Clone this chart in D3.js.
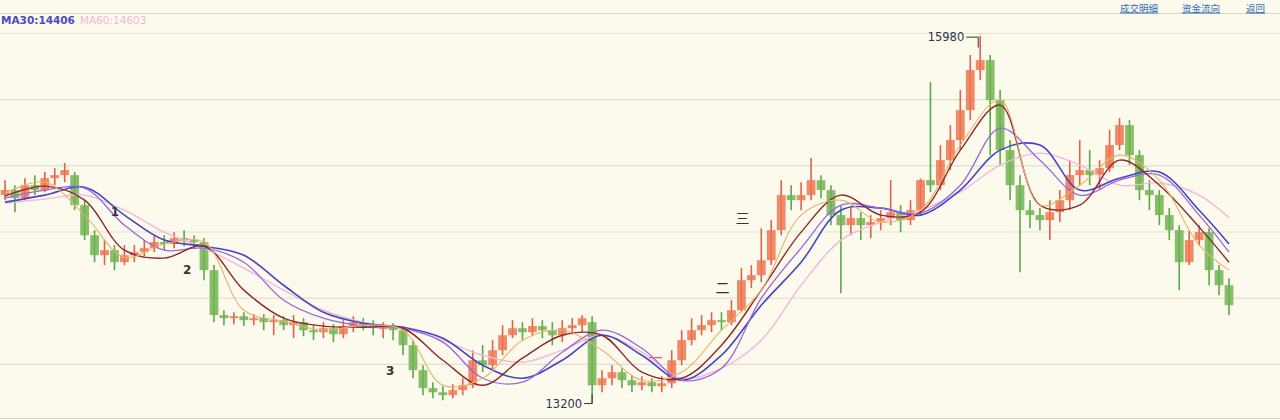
<!DOCTYPE html>
<html><head><meta charset="utf-8">
<script src="https://cdn.jsdelivr.net/npm/d3@7"></script>
<style>html,body{margin:0;padding:0;background:#fcfaec;overflow:hidden}svg{display:block}</style>
</head><body>
<svg id="c" width="1280" height="420"></svg>
<script>
// ---------- data ----------
const opens  = [14775,14813,14752,14850,14813,14903,14926,14926,14699,14472,14321,14359,14268,14321,14344,14374,14420,14405,14450,14435,
  14420,14208,13868,13845,13860,13830,13845,13815,13830,13792,13815,13754,13739,13769,13724,13785,13815,13792,13769,13777,
  13754,13641,13452,13316,13285,13263,13301,13338,13527,13490,13603,13716,13769,13739,13785,13754,13716,13769,13792,13815,
  13338,13391,13437,13376,13338,13361,13331,13353,13527,13679,13754,13792,13830,13815,13905,14132,14170,14283,14510,14775,
  14737,14775,14888,14813,14624,14548,14601,14548,14571,14601,14646,14586,14661,14888,14850,15039,15191,15417,15720,15795,
  15493,15115,14850,14661,14624,14586,14646,14737,14926,14964,14926,14979,15153,15304,15077,14813,14775,14624,14510,14268,
  14435,14495,14208,14094];
const highs  = [14888,14850,14903,14926,14949,14979,15017,14949,14737,14510,14435,14397,14397,14397,14435,14465,14472,14495,14510,14472,
  14450,14246,13905,13890,13890,13875,13875,13868,13860,13868,13845,13792,13815,13800,13830,13860,13845,13830,13815,13807,
  13785,13679,13490,13361,13331,13346,13391,13603,13641,13679,13792,13830,13815,13845,13830,13815,13830,13845,13868,13860,
  13452,13490,13467,13414,13406,13391,13406,13603,13754,13845,13868,13890,13890,13981,14223,14246,14525,14586,14888,14850,
  14873,15055,14926,14850,14699,14677,14646,14624,14661,14888,14699,14737,14900,15629,15153,15304,15569,15833,15980,15833,
  15569,15191,14926,14737,14677,14737,14813,15039,15191,15115,15039,15266,15357,15342,15115,14888,14813,14677,14548,14510,
  14548,14525,14246,14147];
const lows   = [14737,14646,14737,14775,14797,14850,14873,14661,14435,14268,14246,14208,14246,14268,14314,14344,14359,14374,14389,14374,
  14132,13815,13792,13800,13785,13792,13754,13716,13754,13694,13709,13679,13694,13664,13694,13739,13754,13716,13694,13679,
  13565,13391,13263,13240,13225,13240,13263,13316,13437,13452,13565,13694,13679,13709,13694,13641,13664,13724,13739,13200,
  13285,13338,13316,13285,13301,13285,13285,13316,13490,13641,13716,13739,13754,13792,13890,14072,14117,14246,14472,14661,
  14661,14737,14752,14548,14034,14472,14435,14450,14510,14548,14495,14548,14624,14797,14813,14964,15115,15342,15644,15077,
  15002,14737,14193,14525,14510,14435,14571,14661,14850,14850,14813,14949,15115,15002,14737,14661,14548,14435,14057,14246,
  14397,14094,14019,13868];
const closes = [14813,14752,14850,14813,14903,14926,14964,14699,14472,14321,14359,14268,14321,14344,14374,14420,14405,14450,14435,14420,
  14208,13868,13845,13860,13830,13845,13815,13830,13792,13815,13754,13739,13769,13724,13785,13815,13792,13769,13777,13754,
  13641,13452,13316,13285,13263,13301,13338,13527,13490,13603,13716,13769,13739,13785,13754,13716,13769,13792,13845,13338,
  13391,13437,13376,13338,13361,13331,13353,13527,13679,13754,13792,13830,13815,13905,14132,14170,14283,14510,14775,14737,
  14775,14888,14813,14624,14548,14601,14548,14571,14601,14646,14586,14661,14888,14850,15039,15191,15417,15720,15795,15493,
  15115,14850,14661,14624,14586,14646,14737,14926,14964,14926,14979,15153,15304,15077,14813,14775,14624,14510,14268,14435,
  14495,14208,14094,13943];

// moving-average lines, sampled every 4th bar (bar index in maIndex)
const maIndex = [0,4,8,12,16,20,24,28,32,36,40,44,48,52,56,60,64,68,72,76,80,84,88,92,96,100,104,108,112,116,120,123];
const ma5  = [14790,14873,14624,14306,14405,14420,13905,13822,13754,13792,13754,13338,13391,13679,13754,13603,13376,13437,13754,14057,14624,14737,14571,14661,15153,15493,14699,14850,15077,14888,14397,14208];
const ma10 = [14767,14843,14737,14359,14299,14389,14057,13845,13785,13777,13769,13527,13338,13543,13716,13716,13437,13391,13641,14057,14495,14775,14624,14646,15115,15455,14699,14699,15039,14850,14533,14268];
const ma20 = [14752,14813,14828,14548,14359,14374,14268,13981,13845,13785,13769,13664,13391,13361,13588,13754,13618,13376,13467,13996,14374,14699,14677,14639,14850,15281,15039,14775,14888,14926,14624,14344];
const ma30 = [14722,14775,14835,14624,14435,14389,14321,14094,13890,13807,13777,13694,13490,13391,13527,13716,13565,13376,13565,13943,14268,14661,14677,14624,14813,15115,15153,14813,14903,14949,14661,14406];
const ma60 = [14714,14745,14775,14661,14495,14374,14223,14057,13905,13815,13769,13679,13565,13512,13603,13716,13588,13391,13467,13679,14094,14435,14571,14661,14797,15002,15092,15002,14850,14866,14775,14603];

const gridPrices = [13500,14000,14500,15000,15500,16000];
const legendItems = [{name:"MA30", value:14406}, {name:"MA60", value:14603}];
const topLinks = ["成交明细","资金流向","返回"];
const notes = [{t:"1",i:11.05,p:14646},{t:"2",i:18.3,p:14208},{t:"3",i:38.7,p:13445},
               {t:"一",i:65.4,p:13543},{t:"二",i:72.1,p:14072},{t:"三",i:74.1,p:14601}];

// ---------- drawing ----------
const W = 1280, H = 420;
const svg = d3.select("#c");
svg.append("rect").attr("width",W).attr("height",H).attr("fill","#fcfaec");

const n = closes.length;
const x = d3.scaleLinear().domain([0, n-1]).range([5, 1229]);
const y = d3.scaleLinear().domain([13000, 16000]).range([430, 33]);

// frame lines
svg.append("line").attr("x1",0).attr("x2",W).attr("y1",13.5).attr("y2",13.5).attr("stroke","#d9d5c6");
svg.append("line").attr("x1",0).attr("x2",W).attr("y1",418.5).attr("y2",418.5).attr("stroke","#d9d5c6");
// grid
const yAxis = d3.axisLeft(y).tickValues(gridPrices).tickSize(-W).tickFormat("");
const ga = svg.append("g").call(yAxis);
ga.select(".domain").remove();
ga.selectAll(".tick line").attr("stroke","#e2dfd0").attr("stroke-width",1.2);

// candles
const bars = d3.range(n).map(i => ({i, o:opens[i], h:highs[i], l:lows[i], c:closes[i]}));
const upCol = "#ef7552", dnCol = "#72b354";
const cg = svg.append("g");
cg.selectAll("line.w").data(bars).join("line")
  .attr("x1", d => x(d.i)).attr("x2", d => x(d.i))
  .attr("y1", d => y(d.h)).attr("y2", d => y(d.l))
  .attr("stroke", d => d.c >= d.o ? "#e0604a" : "#5aa848").attr("stroke-width",1.6);
cg.selectAll("rect").data(bars).join("rect")
  .attr("x", d => x(d.i) - 4.4).attr("width", 8.8)
  .attr("y", d => y(Math.max(d.o,d.c)))
  .attr("height", d => Math.max(2, Math.abs(y(d.o) - y(d.c))))
  .attr("fill", d => d.c >= d.o ? upCol : dnCol).attr("fill-opacity",0.85);

// moving averages
const lineGen = d3.line().x(d => x(d.i)).y(d => y(d.v)).curve(d3.curveCatmullRom.alpha(0.5));
const mas = [
  {v:ma60, col:"#f3b7dc", w:1.4},
  {v:ma30, col:"#4245c8", w:1.6},
  {v:ma20, col:"#9a66e0", w:1.3},
  {v:ma10, col:"#8c2a2a", w:1.4},
  {v:ma5,  col:"#e9b36a", w:1.1}
];
mas.forEach(m => {
  svg.append("path").datum(maIndex.map((i,k) => ({i, v:m.v[k]})))
    .attr("d", lineGen).attr("fill","none").attr("stroke", m.col).attr("stroke-width", m.w)
    .attr("stroke-linejoin","round");
});

// high / low markers
const hiIdx = d3.maxIndex(highs), loIdx = d3.minIndex(lows);
const hx = x(hiIdx), hy = y(highs[hiIdx]);
svg.append("path").attr("d", `M${hx-14},${hy+1.5}H${hx-2}V${hy+12}`).attr("fill","none").attr("stroke","#333").attr("stroke-width",1);
svg.append("text").attr("x", hx-16).attr("y", hy+1.5).attr("dy","0.35em").attr("text-anchor","end")
  .attr("font-family","DejaVu Sans").attr("font-size",11.5).attr("fill","#2b3550").text(highs[hiIdx]);
const lx = x(loIdx), ly = y(lows[loIdx]);
svg.append("path").attr("d", `M${lx-8},${ly}H${lx}V${ly-9}`).attr("fill","none").attr("stroke","#333").attr("stroke-width",1);
svg.append("text").attr("x", lx-10).attr("y", ly).attr("dy","0.35em").attr("text-anchor","end")
  .attr("font-family","DejaVu Sans").attr("font-size",11.5).attr("fill","#2b3550").text(lows[loIdx]);

// annotations
svg.selectAll("text.note").data(notes).join("text").attr("class","note")
  .attr("x", d => x(d.i)).attr("y", d => y(d.p)).attr("dy","0.35em").attr("text-anchor","middle")
  .attr("font-family", d => /[0-9]/.test(d.t) ? "DejaVu Sans" : "Noto Sans CJK SC")
  .attr("font-size", d => /[0-9]/.test(d.t) ? 12 : 14)
  .attr("font-weight", d => /[0-9]/.test(d.t) ? "bold" : "normal")
  .attr("fill", d => d.t === "一" ? "#e06a50" : "#333").text(d => d.t);

// legend
const lg = svg.append("text").attr("x",1).attr("y",24)
  .attr("font-family","DejaVu Sans").attr("font-size",10.5);
lg.append("tspan").attr("font-weight","bold").attr("fill","#4a4ac4")
  .text(legendItems[0].name + ":" + legendItems[0].value);
lg.append("tspan").attr("dx",5).attr("fill","#f5b5dc")
  .text(legendItems[1].name + ":" + legendItems[1].value);

// top-right links
const linkX = [1120, 1182, 1246];
topLinks.forEach((t,k) => {
  svg.append("text").attr("x", linkX[k]).attr("y", 11.5)
    .attr("font-family","Noto Sans CJK SC").attr("font-size",9.5).attr("fill","#2f6eb5")
    .attr("text-decoration","underline").text(t);
});
</script>
</body></html>
